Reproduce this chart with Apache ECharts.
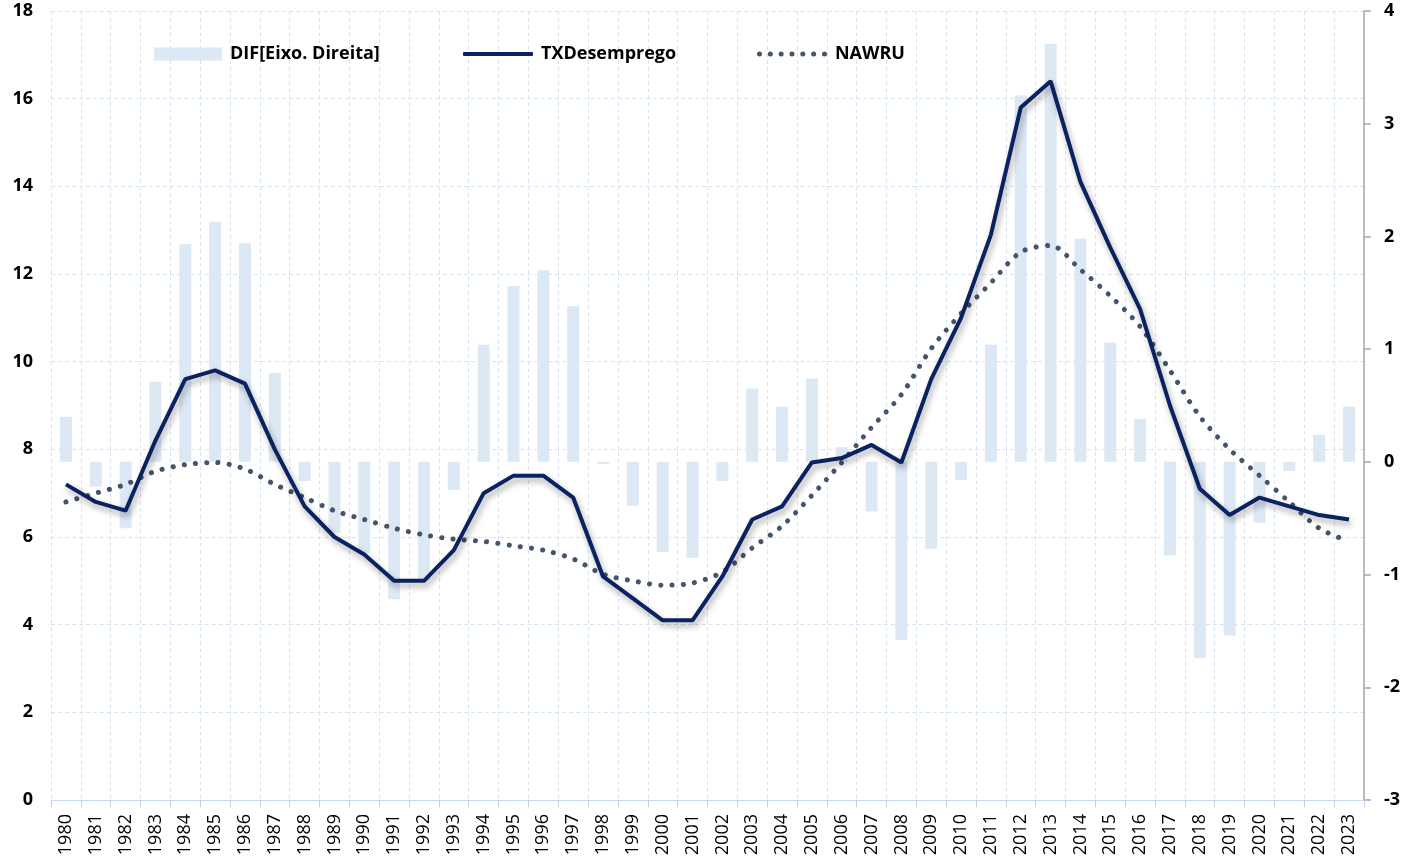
<!DOCTYPE html>
<html>
<head>
<meta charset="utf-8">
<script src="https://cdn.jsdelivr.net/npm/echarts@6/dist/echarts.min.js"></script>
<style>
  html, body { margin: 0; padding: 0; background: #fff; }
  #chart { width: 1403px; height: 865px; }
</style>
</head>
<body>
<div id="chart"></div>
<script>
const years = ['1980', '1981', '1982', '1983', '1984', '1985', '1986', '1987', '1988', '1989',
  '1990', '1991', '1992', '1993', '1994', '1995', '1996', '1997', '1998', '1999',
  '2000', '2001', '2002', '2003', '2004', '2005', '2006', '2007', '2008', '2009',
  '2010', '2011', '2012', '2013', '2014', '2015', '2016', '2017', '2018', '2019',
  '2020', '2021', '2022', '2023']

// taxa de desemprego (eixo esquerdo)
const txDesemprego = [7.2, 6.8, 6.6, 8.2, 9.6, 9.8, 9.5, 8.0, 6.7, 6.0,
  5.6, 5.0, 5.0, 5.7, 7.0, 7.4, 7.4, 6.9, 5.1, 4.6,
  4.1, 4.1, 5.1, 6.4, 6.7, 7.7, 7.8, 8.1, 7.7, 9.6,
  11.0, 12.9, 15.8, 16.4, 14.1, 12.6, 11.2, 9.0, 7.1, 6.5,
  6.9, 6.7, 6.5, 6.4]

const nawru = [6.8, 7.0, 7.2, 7.5, 7.65, 7.7, 7.55, 7.2, 6.9, 6.6,
  6.4, 6.2, 6.05, 5.95, 5.9, 5.8, 5.7, 5.5, 5.15, 5.0,
  4.9, 4.95, 5.2, 5.75, 6.25, 6.95, 7.7, 8.5, 9.25, 10.3,
  11.1, 11.8, 12.5, 12.65, 12.1, 11.5, 10.8, 9.8, 8.75, 8.0,
  7.4, 6.8, 6.2, 5.9]

// diferença (eixo direito)
const dif = [0.40, -0.22, -0.59, 0.71, 1.93, 2.13, 1.94, 0.79, -0.17, -0.63,
  -0.81, -1.22, -1.05, -0.25, 1.04, 1.56, 1.70, 1.38, -0.02, -0.39,
  -0.80, -0.85, -0.17, 0.65, 0.49, 0.74, 0.13, -0.44, -1.58, -0.77,
  -0.16, 1.04, 3.25, 3.71, 1.98, 1.06, 0.38, -0.83, -1.74, -1.54,
  -0.54, -0.08, 0.24, 0.49]

const font = "'Open Sans', 'Noto Sans', sans-serif"
const gridColor = '#D6E3F3'

// legend icon for the dotted line: a row of 7 dots
let dotsPath = 'path://'
for (let i = 0; i < 7; i++) {
  const cx = 2.5 + i * 10.83
  dotsPath += 'M' + (cx - 2.5) + ' 2.5a2.5 2.5 0 1 0 5 0a2.5 2.5 0 1 0 -5 0z'
}

const legendText = {
  fontFamily: font,
  fontSize: 18,
  fontWeight: 'bold',
  color: '#000',
  padding: [0, 0, 0, 3],
}

const myChart = echarts.init(document.getElementById('chart'))

const option = {
  animation: false,
  backgroundColor: '#fff',
  grid: {
    left: 51,
    right: 38,
    top: 11,
    bottom: 65,
  },
  legend: [
    {
      data: ['DIF[Eixo. Direita]'],
      left: 149,
      top: 40,
      itemWidth: 68,
      itemHeight: 13,
      icon: 'rect',
      textStyle: legendText,
    },
    {
      data: ['TXDesemprego'],
      left: 458,
      top: 40,
      itemWidth: 70,
      itemHeight: 4,
      icon: 'roundRect',
      textStyle: legendText,
    },
    {
      data: ['NAWRU'],
      left: 752,
      top: 40,
      itemWidth: 70,
      itemHeight: 5,
      icon: dotsPath,
      textStyle: legendText,
    },
  ],
  xAxis: {
    type: 'category',
    data: years,
    boundaryGap: true,
    axisLine: {
      onZero: false,
      lineStyle: { color: '#C9DAEE', width: 1 },
    },
    axisTick: {
      show: true,
      length: 7,
      lineStyle: { color: '#BFD0E6' },
    },
    axisLabel: {
      rotate: 90,
      interval: 0,
      margin: 14,
      fontFamily: font,
      fontSize: 18,
      color: '#000',
    },
    splitLine: {
      show: true,
      interval: 0,
      lineStyle: { color: gridColor, type: [4, 3], width: 1 },
    },
  },
  yAxis: [
    {
      type: 'value',
      min: 0,
      max: 18,
      interval: 2,
      axisLine: { show: false },
      axisTick: { show: false },
      axisLabel: {
        margin: 18,
        fontFamily: font,
        fontSize: 18,
        fontWeight: 'bold',
        color: '#000',
      },
      splitLine: {
        lineStyle: { color: gridColor, type: [4, 3], width: 1 },
      },
    },
    {
      type: 'value',
      min: -3,
      max: 4,
      interval: 1,
      position: 'right',
      axisLine: {
        show: true,
        lineStyle: { color: '#A6A6A6', width: 1.5 },
      },
      axisTick: {
        show: true,
        length: 7,
        lineStyle: { color: '#A6A6A6', width: 1.5 },
      },
      axisLabel: {
        margin: 20,
        fontFamily: font,
        fontSize: 18,
        fontWeight: 'bold',
        color: '#000',
      },
      splitLine: { show: false },
    },
  ],
  series: [
    {
      name: 'DIF[Eixo. Direita]',
      type: 'bar',
      yAxisIndex: 1,
      barWidth: 12,
      itemStyle: { color: '#DDE8F5' },
      data: dif,
    },
    {
      name: 'TXDesemprego',
      type: 'line',
      yAxisIndex: 0,
      symbol: 'none',
      z: 4,
      lineStyle: {
        color: '#0A2260',
        width: 4,
        shadowColor: 'rgba(0, 0, 0, 0.35)',
        shadowBlur: 6,
        shadowOffsetX: 2,
        shadowOffsetY: 4,
      },
      itemStyle: { color: '#0A2260' },
      data: txDesemprego,
    },
    {
      name: 'NAWRU',
      type: 'line',
      yAxisIndex: 0,
      symbol: 'none',
      smooth: 0.3,
      z: 3,
      lineStyle: {
        color: '#44546A',
        width: 5,
        type: [0.1, 11.2],
        cap: 'round',
      },
      itemStyle: { color: '#44546A' },
      data: nawru,
    },
  ],
}

myChart.setOption(option)
</script>
</body>
</html>
